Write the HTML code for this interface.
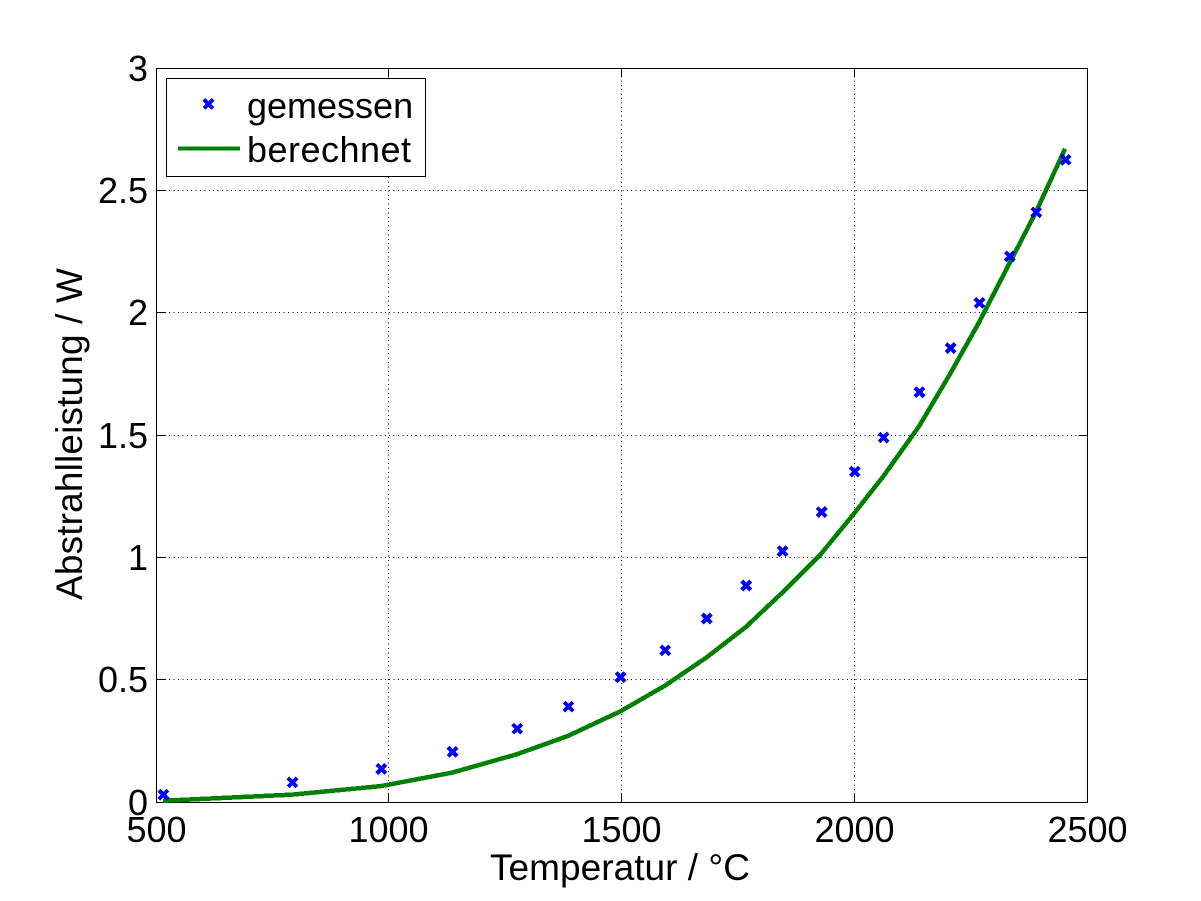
<!DOCTYPE html>
<html lang="de">
<head>
<meta charset="utf-8">
<title>Abstrahlleistung</title>
<style>
html,body{margin:0;padding:0;background:#fff}
svg{display:block}
text{font-family:"Liberation Sans",Arial,sans-serif;font-size:36px;fill:#000}
</style>
</head>
<body>
<svg id="chart" xmlns="http://www.w3.org/2000/svg" width="1201" height="901" viewBox="0 0 1201 901">
<rect x="156.5" y="68.5" width="931" height="734" fill="#fff"/>
<g id="grid"></g>
<g id="ticks"></g>
<rect x="156.5" y="68.5" width="931" height="734" fill="none" stroke="#000" stroke-width="1" shape-rendering="crispEdges"/>
<g id="tick-labels"></g>
<text x="620" y="880" text-anchor="middle" style="font-size:37px" textLength="260" lengthAdjust="spacing">Temperatur / °C</text>
<text transform="translate(82 434) rotate(-90)" text-anchor="middle" style="font-size:37px" textLength="332" lengthAdjust="spacing">Abstrahlleistung / W</text>
<path id="calc-line" fill="none" stroke="#008000" stroke-width="4.5" stroke-linejoin="round" shape-rendering="crispEdges"/>
<g id="markers"></g>
<g>
<rect x="166.5" y="78.5" width="259" height="98" fill="#fff" stroke="#000" stroke-width="1" shape-rendering="crispEdges"/>
<path d="M204 99.5L213 108.5M213 99.5L204 108.5" stroke="#0000ff" stroke-width="4" fill="none" shape-rendering="crispEdges"/>
<text x="247" y="118">gemessen</text>
<line x1="178" x2="240" y1="148.5" y2="148.5" stroke="#008000" stroke-width="4" shape-rendering="crispEdges"/>
<text x="247" y="162" textLength="164" lengthAdjust="spacing">berechnet</text>
</g>
</svg>
<script>
const xTicks = [500, 1000, 1500, 2000, 2500];
const yTicks = [0, 0.5, 1, 1.5, 2, 2.5, 3];
const temperatures = [515, 792, 983, 1136, 1275, 1385, 1497, 1593, 1682, 1767, 1845, 1929, 2000, 2062, 2139, 2206, 2268, 2333, 2390, 2453];
const measured = [0.03, 0.08, 0.135, 0.205, 0.30, 0.39, 0.51, 0.62, 0.75, 0.885, 1.025, 1.185, 1.35, 1.49, 1.675, 1.855, 2.04, 2.23, 2.41, 2.625];
const calculated = [0.005, 0.03, 0.065, 0.12, 0.195, 0.27, 0.37, 0.475, 0.59, 0.715, 0.855, 1.015, 1.18, 1.33, 1.535, 1.75, 1.96, 2.2, 2.41, 2.67];

const NS = 'http://www.w3.org/2000/svg';
const left = 156.5, right = 1087.5, top_ = 68.5, bottom = 802.5;
function xScale(v) { return 156 + (v - 500) / 2000 * 931; }
function yScale(v) { return 802 - v / 3 * 734; }
function snap(v) { return Math.floor(v) + 0.5; }
function make(tag, attrs, parent) {
  const el = document.createElementNS(NS, tag);
  for (const k in attrs) el.setAttribute(k, attrs[k]);
  parent.appendChild(el);
  return el;
}
const gridG = document.getElementById('grid');
const ticksG = document.getElementById('ticks');
const labelsG = document.getElementById('tick-labels');
const gridStyle = { stroke: '#000', 'stroke-width': 1, 'stroke-dasharray': '1 3.4', 'shape-rendering': 'crispEdges' };
const tickStyle = { stroke: '#000', 'stroke-width': 1, 'shape-rendering': 'crispEdges' };

xTicks.forEach(function (t) {
  const x = snap(xScale(t));
  if (t !== 500 && t !== 2500) {
    const g = make('line', Object.assign({ x1: x, x2: x, y1: 803, y2: 68 }, gridStyle), gridG);
    
    
    const a = make('line', Object.assign({ x1: x, x2: x, y1: bottom, y2: bottom - 9 }, tickStyle), ticksG);
    
    
    const b = make('line', Object.assign({ x1: x, x2: x, y1: top_, y2: top_ + 9 }, tickStyle), ticksG);
    
    
  }
  const lab = make('text', { x: x, y: 842, 'text-anchor': 'middle' }, labelsG);
  
  
  lab.textContent = String(t);
});

yTicks.forEach(function (t) {
  const y = snap(yScale(t));
  if (t !== 0 && t !== 3) {
    const g = make('line', Object.assign({ x1: 156, x2: 1088, y1: y, y2: y }, gridStyle), gridG);
    
    
    const a = make('line', Object.assign({ x1: left, x2: left + 9, y1: y, y2: y }, tickStyle), ticksG);
    
    
    const b = make('line', Object.assign({ x1: right, x2: right - 9, y1: y, y2: y }, tickStyle), ticksG);
    
    
  }
  const lab = make('text', { x: 148, y: y + 12.5, 'text-anchor': 'end' }, labelsG);
  
  
  lab.textContent = String(t);
});

document.getElementById('calc-line').setAttribute('d', temperatures.map(function (t, i) {
  return (i ? 'L' : 'M') + xScale(t).toFixed(2) + ' ' + yScale(calculated[i]).toFixed(2);
}).join(''));

const markersG = document.getElementById('markers');
temperatures.forEach(function (t, i) {
  const x = xScale(t) + 0.5, y = yScale(measured[i]), r = 4.5;
  const m = make('path', {
    d: 'M' + (x - r) + ' ' + (y - r) + 'L' + (x + r) + ' ' + (y + r) + 'M' + (x + r) + ' ' + (y - r) + 'L' + (x - r) + ' ' + (y + r),
    stroke: '#0000ff', 'stroke-width': 4, fill: 'none', 'shape-rendering': 'crispEdges'
  }, markersG);
  
  
});
</script>
</body>
</html>
